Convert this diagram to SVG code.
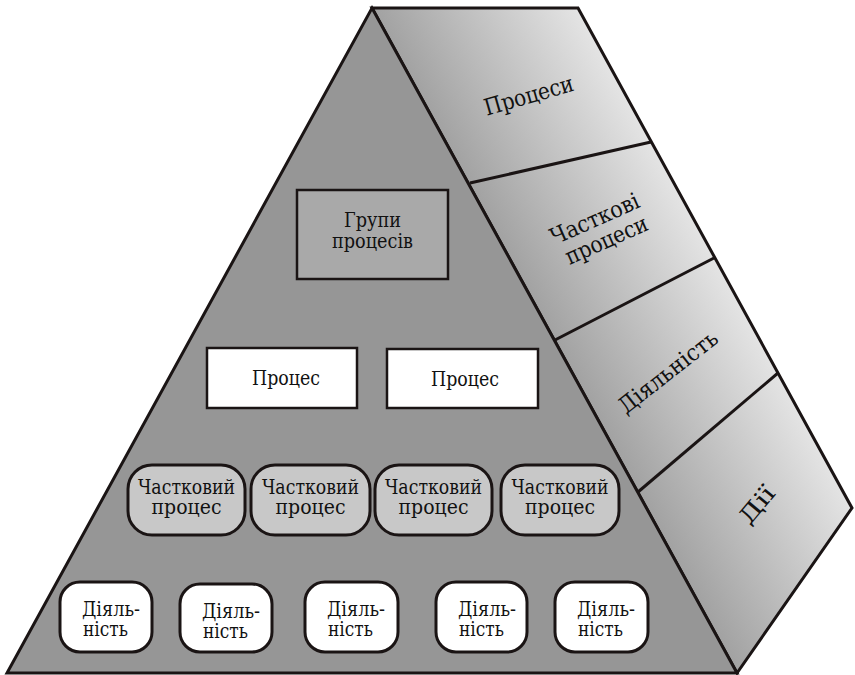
<svg xmlns="http://www.w3.org/2000/svg" width="855" height="675" viewBox="0 0 855 675">
  <defs>
    <!-- shading across the side face, perpendicular to its slanted edges -->
    <linearGradient id="sideShade" gradientUnits="userSpaceOnUse" x1="372" y1="8" x2="530" y2="-79">
      <stop offset="0" stop-color="#a2a2a2"/>
      <stop offset="1" stop-color="#e4e4e4"/>
    </linearGradient>
    <style>
      .edge { fill: none; stroke: #1a1414; stroke-width: 3; }
      .front { fill: #969696; stroke: #1a1414; stroke-width: 3; }
      .side { fill: url(#sideShade); stroke: #1a1414; stroke-width: 3; }
      .group { fill: #a9a9a9; stroke: #1a1414; stroke-width: 2.5; }
      .proc { fill: #ffffff; stroke: #1a1414; stroke-width: 2.5; }
      .sub { fill: #c8c8c8; stroke: #1a1414; stroke-width: 3; }
      .act { fill: #ffffff; stroke: #1a1414; stroke-width: 3; }
      .lbl { font-family: "DejaVu Serif", "Liberation Serif", serif; font-size: 19.5px; text-anchor: middle; fill: #111; }
      .lbl-l { font-family: "DejaVu Serif", "Liberation Serif", serif; font-size: 19.5px; fill: #111; }
      .face { font-family: "DejaVu Serif", "Liberation Serif", serif; font-size: 23px; text-anchor: middle; fill: #111; }
    </style>
  </defs>

  <!-- side face (levels) -->
  <g id="side-face">
    <polygon class="side" points="372,8 578,8 852,508 737,673"/>
    <line class="edge" x1="470" y1="183" x2="651" y2="142"/>
    <line class="edge" x1="555" y1="340" x2="714" y2="258"/>
    <line class="edge" x1="638" y1="492" x2="778" y2="373"/>
    <text class="face" transform="translate(531,103) rotate(-16)" textLength="92" lengthAdjust="spacingAndGlyphs">Процеси</text>
    <g transform="translate(598,226) rotate(-24)">
      <text class="face" x="0" y="0" textLength="95" lengthAdjust="spacingAndGlyphs">Часткові</text>
      <text class="face" x="2" y="24" textLength="88" lengthAdjust="spacingAndGlyphs">процеси</text>
    </g>
    <text class="face" transform="translate(673,378) rotate(-38)" textLength="119" lengthAdjust="spacingAndGlyphs">Діяльність</text>
    <text class="face" transform="translate(763,510) rotate(-50)" textLength="42" lengthAdjust="spacingAndGlyphs">Дії</text>
  </g>

  <!-- front face -->
  <g id="front-face">
    <polygon class="front" points="372,8 737,673 7,673"/>
  </g>

  <!-- top level -->
  <g id="process-groups">
    <rect class="group" x="297" y="190" width="151" height="89"/>
    <text class="lbl" x="372.5" y="227" textLength="57" lengthAdjust="spacingAndGlyphs">Групи</text>
    <text class="lbl" x="372.5" y="248" textLength="81" lengthAdjust="spacingAndGlyphs">процесів</text>
  </g>

  <!-- processes -->
  <g id="process-1">
    <rect class="proc" x="207" y="348" width="150" height="60"/>
    <text class="lbl" x="286" y="385" textLength="68" lengthAdjust="spacingAndGlyphs">Процес</text>
  </g>
  <g id="process-2">
    <rect class="proc" x="387" y="349" width="151" height="59"/>
    <text class="lbl" x="465" y="386" textLength="68" lengthAdjust="spacingAndGlyphs">Процес</text>
  </g>

  <!-- sub-processes -->
  <g id="subprocess-1">
    <rect class="sub" x="128" y="465" width="117" height="70" rx="24"/>
    <text class="lbl" x="186.5" y="494" textLength="97" lengthAdjust="spacingAndGlyphs">Частковий</text>
    <text class="lbl" x="186.5" y="514" textLength="70" lengthAdjust="spacingAndGlyphs">процес</text>
  </g>
  <g id="subprocess-2">
    <rect class="sub" x="251" y="465" width="119" height="70" rx="24"/>
    <text class="lbl" x="310.5" y="494" textLength="97" lengthAdjust="spacingAndGlyphs">Частковий</text>
    <text class="lbl" x="310.5" y="514" textLength="70" lengthAdjust="spacingAndGlyphs">процес</text>
  </g>
  <g id="subprocess-3">
    <rect class="sub" x="375" y="465" width="117" height="70" rx="24"/>
    <text class="lbl" x="433.5" y="494" textLength="97" lengthAdjust="spacingAndGlyphs">Частковий</text>
    <text class="lbl" x="433.5" y="514" textLength="70" lengthAdjust="spacingAndGlyphs">процес</text>
  </g>
  <g id="subprocess-4">
    <rect class="sub" x="501" y="465" width="118" height="70" rx="24"/>
    <text class="lbl" x="560" y="494" textLength="97" lengthAdjust="spacingAndGlyphs">Частковий</text>
    <text class="lbl" x="560" y="514" textLength="70" lengthAdjust="spacingAndGlyphs">процес</text>
  </g>

  <!-- activities -->
  <g id="activity-1">
    <rect class="act" x="60" y="582" width="92" height="70" rx="20"/>
    <text class="lbl-l" x="82" y="616" textLength="58" lengthAdjust="spacingAndGlyphs">Діяль-</text>
    <text class="lbl-l" x="83" y="636" textLength="45" lengthAdjust="spacingAndGlyphs">ність</text>
  </g>
  <g id="activity-2">
    <rect class="act" x="180" y="584" width="92" height="68" rx="20"/>
    <text class="lbl-l" x="202" y="618" textLength="58" lengthAdjust="spacingAndGlyphs">Діяль-</text>
    <text class="lbl-l" x="203" y="638" textLength="45" lengthAdjust="spacingAndGlyphs">ність</text>
  </g>
  <g id="activity-3">
    <rect class="act" x="305" y="582" width="93" height="70" rx="20"/>
    <text class="lbl-l" x="327" y="616" textLength="58" lengthAdjust="spacingAndGlyphs">Діяль-</text>
    <text class="lbl-l" x="328" y="636" textLength="45" lengthAdjust="spacingAndGlyphs">ність</text>
  </g>
  <g id="activity-4">
    <rect class="act" x="436" y="582" width="91" height="70" rx="20"/>
    <text class="lbl-l" x="458" y="616" textLength="58" lengthAdjust="spacingAndGlyphs">Діяль-</text>
    <text class="lbl-l" x="459" y="636" textLength="45" lengthAdjust="spacingAndGlyphs">ність</text>
  </g>
  <g id="activity-5">
    <rect class="act" x="555" y="582" width="93" height="70" rx="20"/>
    <text class="lbl-l" x="577" y="616" textLength="58" lengthAdjust="spacingAndGlyphs">Діяль-</text>
    <text class="lbl-l" x="578" y="636" textLength="45" lengthAdjust="spacingAndGlyphs">ність</text>
  </g>

  <!-- hierarchy has no explicit links between nodes -->
  <g id="connectors"/>
</svg>
